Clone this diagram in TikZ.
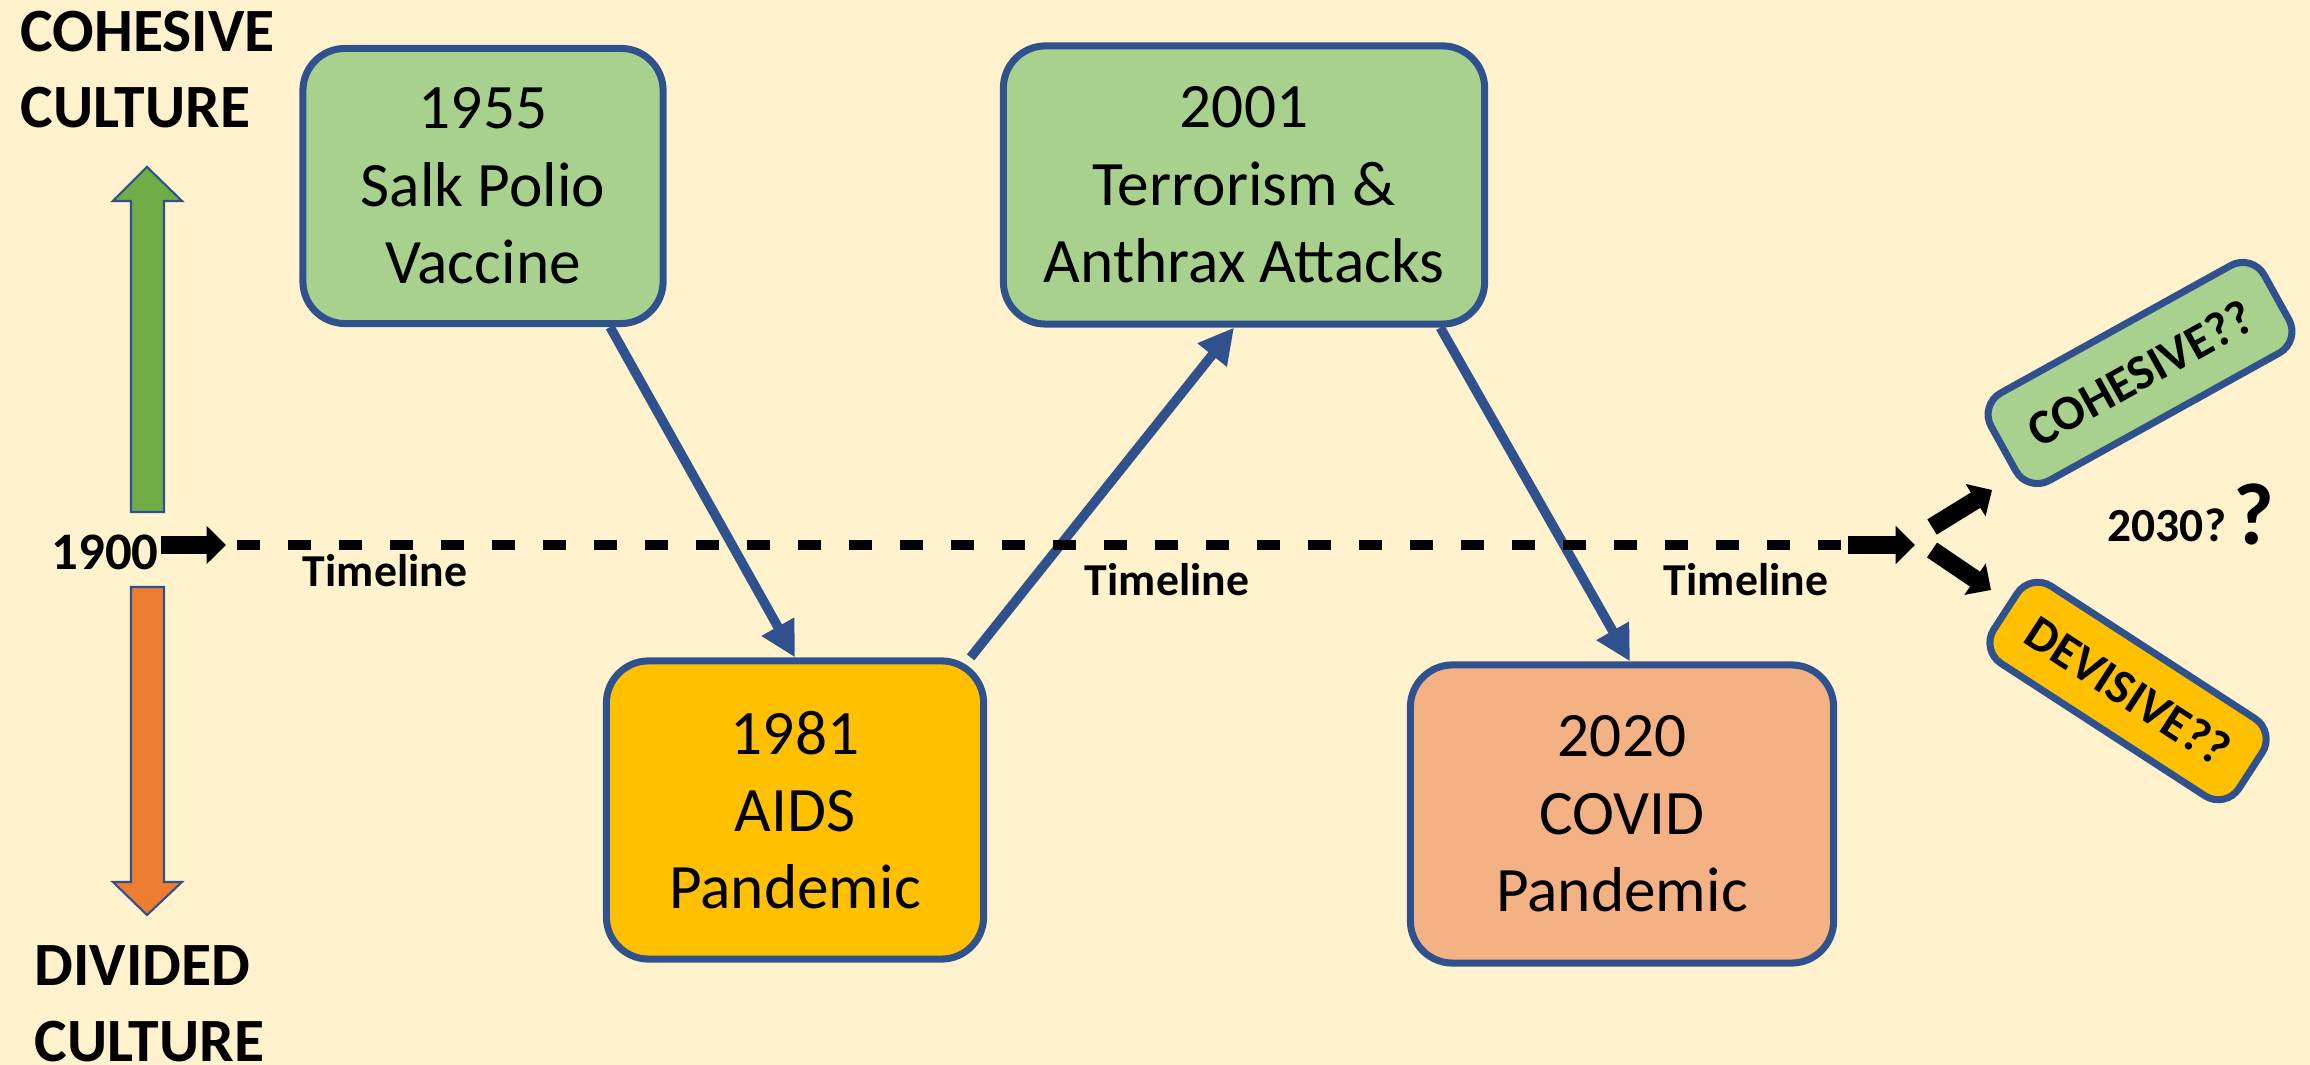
\documentclass[tikz,border=0pt]{standalone}
\usepackage{fontspec}
\setmainfont{Carlito}
\usetikzlibrary{arrows.meta}
\definecolor{paper}{HTML}{FFF2CC}
\definecolor{edgeblue}{HTML}{2F528F}
\definecolor{goodgreen}{HTML}{A9D18E}
\definecolor{badgold}{HTML}{FFC000}
\definecolor{badsalmon}{HTML}{F4B183}
\definecolor{upgreen}{HTML}{70AD47}
\definecolor{downorange}{HTML}{ED7D31}

\begin{document}
\begin{tikzpicture}[x=0.01cm, y=-0.01cm]
   \tikzstyle{event}=[draw=edgeblue, line width=2pt, rounded corners=12pt, align=center, inner sep=0pt, font=\fontsize{18}{22}\selectfont]
   \tikzstyle{link}=[draw=edgeblue, line width=2.7pt, -{Triangle[length=10pt, width=10pt]}]
   \tikzstyle{fat}=[line width=5.1pt, -{Triangle[length=5.5pt, width=10.5pt]}]
   \tikzstyle{outcome}=[draw=edgeblue, line width=2pt, rounded corners=7pt, inner sep=0pt, font=\bfseries\fontsize{14}{17}\selectfont]
   \tikzstyle{tl}=[inner sep=0pt, anchor=base, font=\bfseries\fontsize{13}{16}\selectfont]
   \tikzstyle{side}=[inner sep=0pt, anchor=west, align=left, font=\bfseries\fontsize{17.5}{21.6}\selectfont]
   \tikzstyle{bigarrow}=[draw=edgeblue, line width=0.6pt]

   \useasboundingbox (0,0) rectangle (2310,1065);
   \fill[paper] (0,0) rectangle (2310,1065);

   \filldraw[bigarrow, fill=upgreen] (131,512) -- (131,201) -- (113,201) -- (147,167) -- (182,201) -- (164,201) -- (164,512) -- cycle;
   \filldraw[bigarrow, fill=downorange] (131,587) -- (131,882) -- (113,882) -- (147,915) -- (182,882) -- (164,882) -- (164,587) -- cycle;
   \node[side] (cohesive) at (20,70) {COHESIVE\\CULTURE};
   \node[side] (divided) at (34,1004) {DIVIDED\\CULTURE};

\node[event, fill=goodgreen, minimum width=3.60cm, minimum height=2.75cm] (polio) at (483,186) {1955\\Salk Polio\\Vaccine};
\node[event, fill=goodgreen, minimum width=4.81cm, minimum height=2.78cm] (terror) at (1244,185) {2001\\Terrorism \&\\Anthrax Attacks};
\node[event, fill=badgold, minimum width=3.77cm, minimum height=2.98cm] (aids) at (795,810) {1981\\AIDS\\Pandemic};
\node[event, fill=badsalmon, minimum width=4.23cm, minimum height=2.98cm] (covid) at (1622,814) {2020\\COVID\\Pandemic};

   \draw[link] (polio.-48) -- (aids.north);
   \draw[link] (aids.41) -- (terror.-94);
   \draw[link] (terror.-36) -- (covid.87);

   \node[inner sep=0.5pt, anchor=base east, font=\bfseries\fontsize{15}{18}\selectfont] (start) at (161,570) {1900};
   \coordinate (tip1900) at (226,545);
   \coordinate (dash0) at (237,545);
   \coordinate (dash1) at (1842,545);
   \coordinate (go) at (1848,545);
   \coordinate (fork) at (1915,545);
   \draw[fat] (start.east |- tip1900) -- (tip1900);
   \draw[line width=2.6pt, dash pattern=on 6.5pt off 8pt] (dash0) -- (dash1);
   \draw[fat] (go) -- (fork);

   \node[tl] (tl1) at (385,587) {Timeline};
   \node[tl] (tl2) at (1167,596) {Timeline};
   \node[tl] (tl3) at (1746,596) {Timeline};

   \coordinate (upfrom) at (1932,527);
   \coordinate (upto) at (1992,490);
   \coordinate (downfrom) at (1932,550);
   \coordinate (downto) at (1991,590);
   \draw[fat] (upfrom) -- (upto);
   \draw[fat] (downfrom) -- (downto);

\node[outcome, fill=goodgreen, minimum width=3.12cm, minimum height=1.00cm, rotate=29] (maybegood) at (2140,373) {COHESIVE??};
\node[outcome, fill=badgold, minimum width=2.92cm, minimum height=0.92cm, rotate=-33] (maybebad) at (2128,691) {DEVISIVE??};

   \node[inner sep=0pt, anchor=base west, font=\bfseries\fontsize{13.5}{16}\selectfont] (when) at (2107,542) {2030?};
   \node[inner sep=0pt, anchor=base west, font=\bfseries\fontsize{25}{30}\selectfont] (unknown) at (2233,545) {?};
\end{tikzpicture}
\end{document}
